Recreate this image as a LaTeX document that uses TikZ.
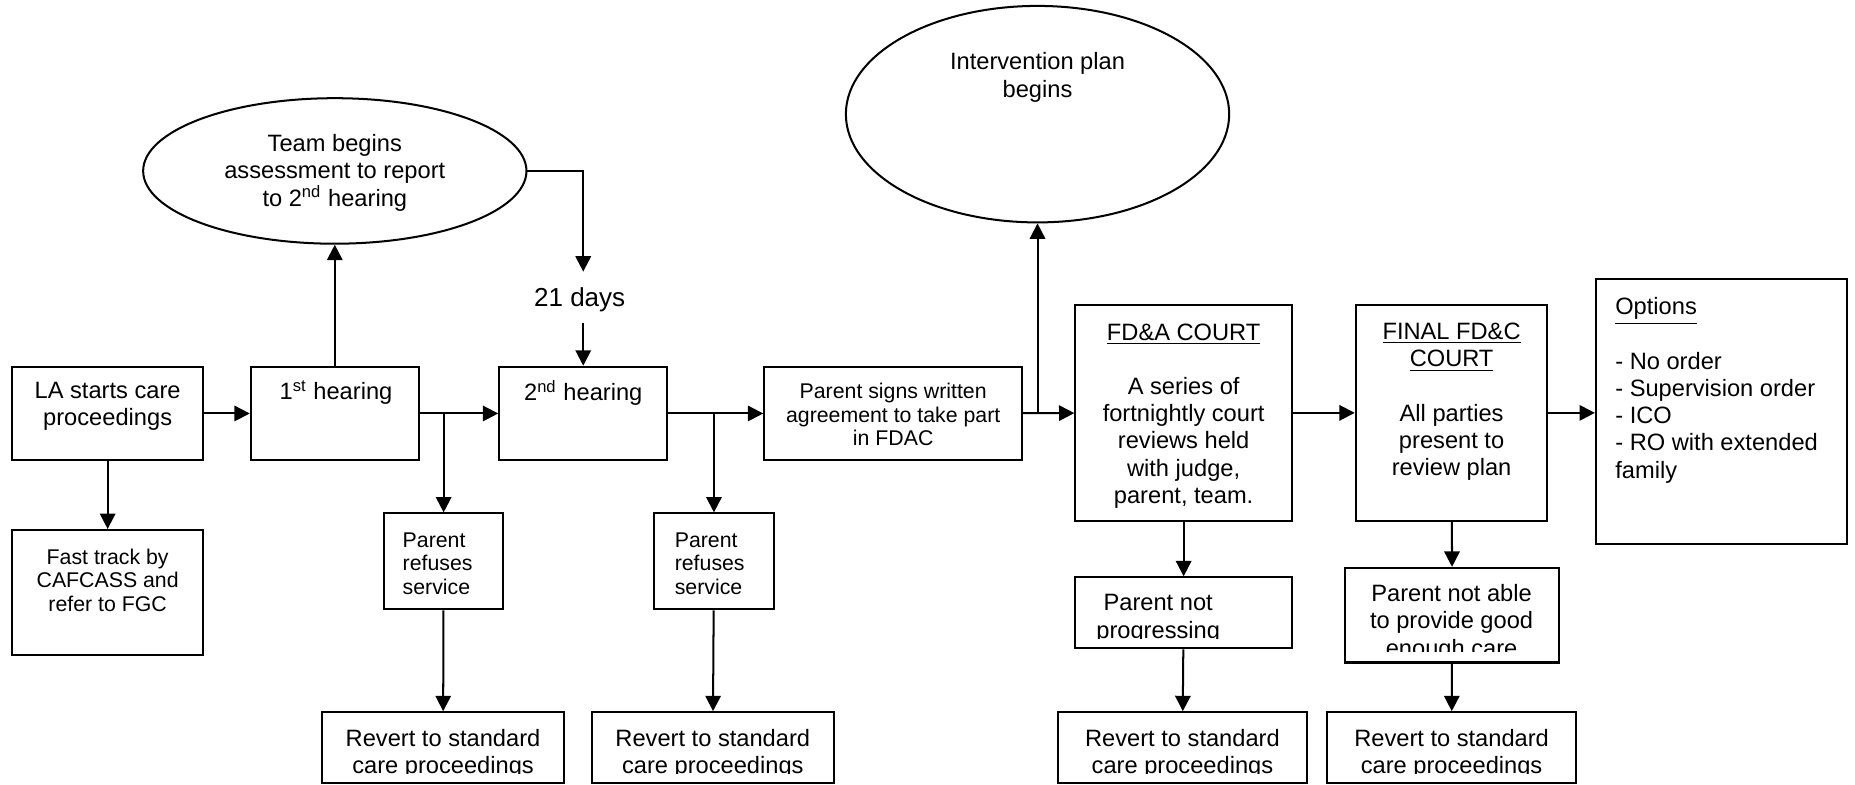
\documentclass[tikz,border=0pt]{standalone}
\usepackage{fontspec}
\setmainfont{Liberation Sans}
\usetikzlibrary{arrows.meta,shapes.geometric,fit}
\newcommand\mfont{\fontsize{10}{11.5}\selectfont}
\newcommand\smfont{\fontsize{9}{10}\selectfont}
\begin{document}
\begin{tikzpicture}[x=0.5pt,y=-0.5pt,
  box/.style={draw, line width=0.85pt, inner sep=0pt},
  oval/.style={draw, ellipse, line width=0.85pt, inner sep=0pt},
  txt/.style={inner sep=0pt, align=center, font=\mfont},
  stxt/.style={inner sep=0pt, align=center, font=\smfont},
  arr/.style={line width=0.85pt, -{Triangle[length=6.5pt,width=6.5pt]}}]
\useasboundingbox (0,0) rectangle (1568,663);
% boxes
\node[box, fit={(10,310)(172,389)}] (la) {};
\node[box, fit={(212,310)(354,389)}] (h1) {};
\node[box, fit={(422,310)(564,389)}] (h2) {};
\node[box, fit={(646,310)(864,389)}] (ps) {};
\node[box, fit={(909,258)(1092,440)}] (fda) {};
\node[box, fit={(1146,258)(1308,440)}] (fin) {};
\node[box, fit={(1349,236)(1561,460)}] (opt) {};
\node[box, fit={(10,448)(172,554)}] (fast) {};
\node[box, fit={(325,434)(425,515)}] (pr1) {};
\node[box, fit={(553,434)(654,515)}] (pr2) {};
\node[box, fit={(909,488)(1092,548)}] (pnp) {};
\node[box, fit={(1137,480)(1318,560)}] (pna) {};
\node[box, fit={(272,602)(477,661.5)}] (rv1) {};
\node[box, fit={(500,602)(705,661.5)}] (rv2) {};
\node[box, fit={(894,602)(1105,661.5)}] (rv3) {};
\node[box, fit={(1122,602)(1332,661.5)}] (rv4) {};
% ellipses
\node[oval, minimum width=162pt, minimum height=61.5pt] (team) at (283,144.5) {};
\node[txt] (teamt) at (283,146) {Team begins\\assessment to report\\to 2\textsuperscript{nd} hearing};
\node[oval, minimum width=162pt, minimum height=91.5pt] (iv) at (877,96.5) {};
\node[txt] (ivt) at (877,65.5) {Intervention plan\\begins};
\node[txt, font=\fontsize{11}{13}\selectfont, minimum height=21.5pt] (days) at (493,251.5) {};
\node[txt, font=\fontsize{11}{13}\selectfont] (dayst) at (490,253.5) {21 days};
% texts
\node[txt] (lat) at (91,343.5) {LA starts care\\proceedings};
\node[txt] (h1t) at (284,332) {1\textsuperscript{st} hearing};
\node[txt] (h2t) at (493,332) {2\textsuperscript{nd} hearing};
\node[stxt] (pst) at (755,350.5) {Parent signs written\\agreement to take part\\in FDAC};
\node[txt] (fdat) at (1000.5,351.5) {\underline{FD\&A COURT}\\[11.5pt]A series of\\fortnightly court\\reviews held\\with judge,\\parent, team.};
\node[txt] (fint) at (1227,339.5) {\underline{FINAL FD\&C}\\\underline{COURT}\\[11.5pt]All parties\\present to\\review plan};
\node[txt, align=left, anchor=west] (optt) at (1365,330) {\underline{Options}\\[11.5pt]- No order\\- Supervision order\\- ICO\\- RO with extended\\family};
\node[stxt] (fastt) at (91,490.5) {Fast track by\\CAFCASS and\\refer to FGC};
\node[stxt, align=left, anchor=west] (pr1t) at (340,476.5) {Parent\\refuses\\service};
\node[stxt, align=left, anchor=west] (pr2t) at (570,476.5) {Parent\\refuses\\service};
\begin{scope}
\clip (0,0) rectangle (1568,654);
\node[txt] (rv1t) at (374.5,637) {Revert to standard\\care proceedings};
\node[txt] (rv2t) at (602.5,637) {Revert to standard\\care proceedings};
\node[txt] (rv3t) at (999.5,637) {Revert to standard\\care proceedings};
\node[txt] (rv4t) at (1227,637) {Revert to standard\\care proceedings};
\end{scope}
\begin{scope}
\clip (900,490) rectangle (1090,540);
\node[txt] (pnpt) at (979,523) {Parent not\\progressing};
\end{scope}
\begin{scope}
\clip (1140,482) rectangle (1315,551);
\node[txt] (pnat) at (1227,526.5) {Parent not able\\to provide good\\enough care};
\end{scope}
% connectors
\draw[arr] (la) -- (h1);
\draw[arr] (la) -- (fast);
\draw[arr] (h1) -- (team);
\draw[arr] (team.east) -| (days.north);
\draw[arr] (days) -- (h2);
\draw[arr] (h1) -- (h2);
\draw[arr] (pr1.north |- h1.east) -- (pr1);
\draw[arr] (pr1) -- (rv1);
\draw[arr] (h2) -- (ps);
\draw[arr] (pr2.north |- h2.east) -- (pr2);
\draw[arr] (pr2) -- (rv2);
\draw[arr] (ps) -- (fda);
\draw[arr] (iv.south |- ps.east) -- (iv);
\draw[arr] (fda) -- (fin);
\draw[arr] (fin.east) -- (opt.west |- fin.east);
\draw[arr] (fda) -- (pnp);
\draw[arr] (pnp) -- (rv3);
\draw[arr] (fin) -- (pna);
\draw[arr] (pna) -- (rv4);
\end{tikzpicture}
\end{document}
